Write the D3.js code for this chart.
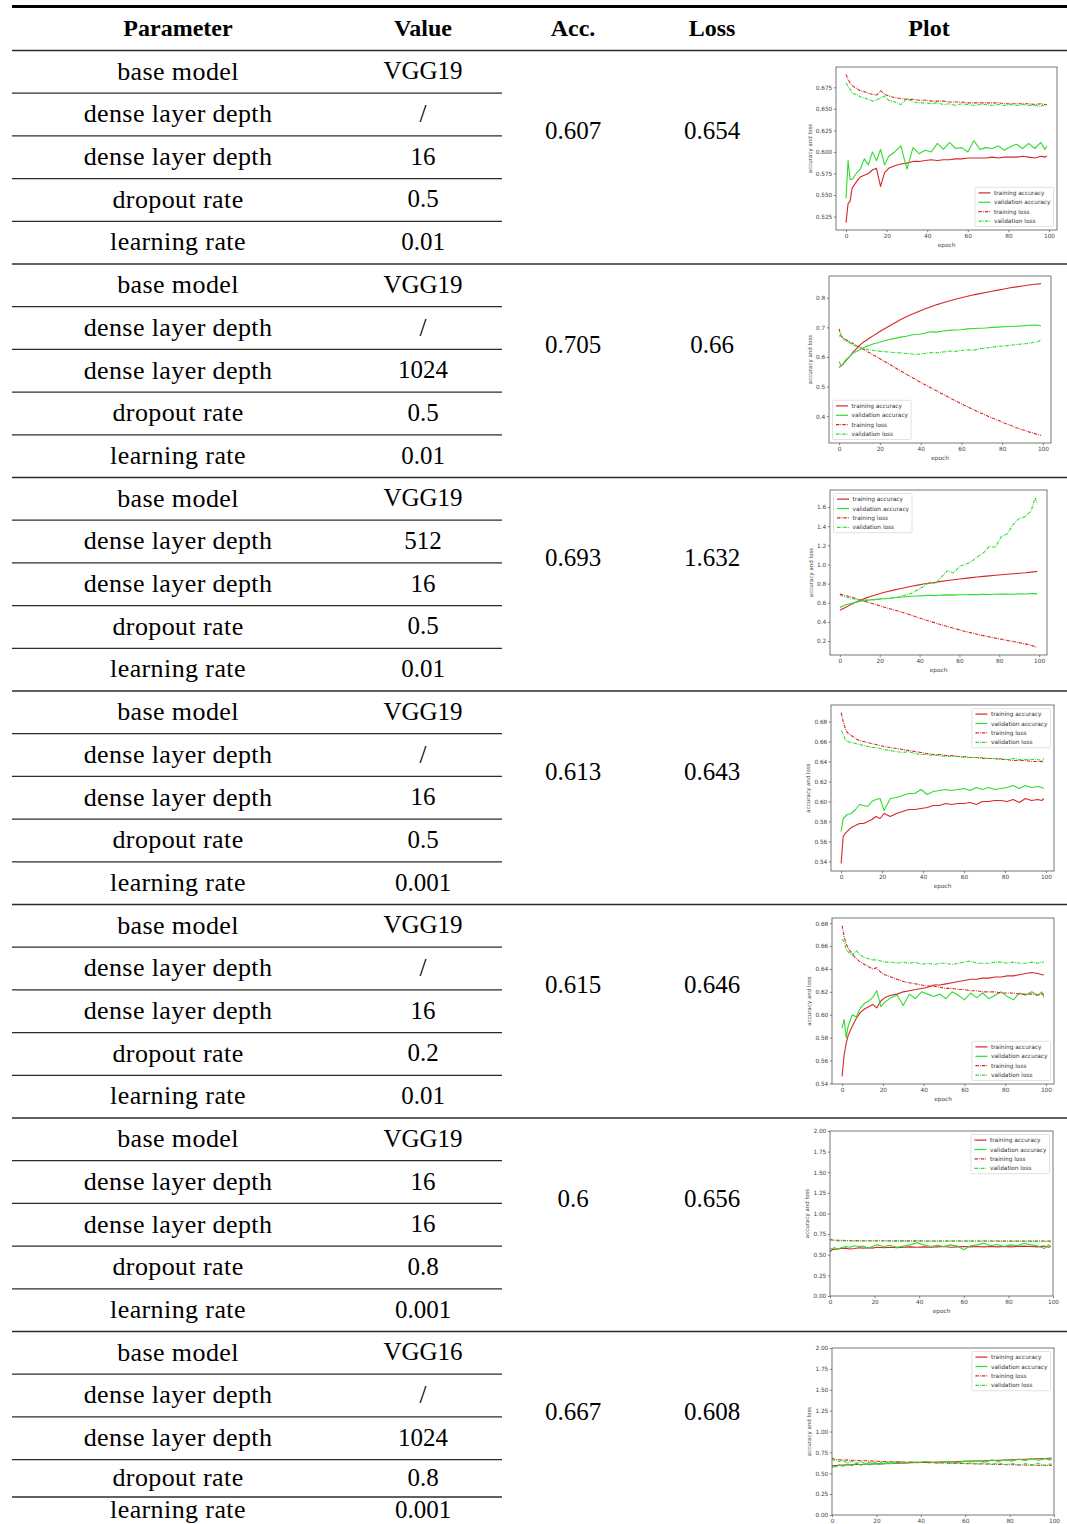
<!DOCTYPE html>
<html>
<head>
<meta charset="utf-8">
<script src="https://cdn.jsdelivr.net/npm/d3@7"></script>
<style>
  html, body { margin: 0; padding: 0; background: #fff; }
  svg { display: block; }
</style>
</head>
<body>
<svg id="table" width="1067" height="1524"></svg>
<script>
// ---------- table content ----------
const headers = ["Parameter", "Value", "Acc.", "Loss", "Plot"];
const paramNames = ["base model", "dense layer depth", "dense layer depth", "dropout rate", "learning rate"];
const paramValues = [
  ["VGG19", "/", "16", "0.5", "0.01"],
  ["VGG19", "/", "1024", "0.5", "0.01"],
  ["VGG19", "512", "16", "0.5", "0.01"],
  ["VGG19", "/", "16", "0.5", "0.001"],
  ["VGG19", "/", "16", "0.2", "0.01"],
  ["VGG19", "16", "16", "0.8", "0.001"],
  ["VGG16", "/", "1024", "0.8", "0.001"]
];
const accValues  = [0.607, 0.705, 0.693, 0.613, 0.615, 0.6, 0.667];
const lossValues = [0.654, 0.66, 1.632, 0.643, 0.646, 0.656, 0.608];

// ---------- training curves ----------
const seriesNames = ["training accuracy", "validation accuracy", "training loss", "validation loss"];
const EPOCHS = [0,1,2,3,5,7,9,11,13,15, 17,19,21,24,27,30,33,36,39,42,
                45,48,51,54,57,60,63,66,69,72, 75,78,81,84,87,90,93,96,98,99];
const xTicks = [0, 20, 40, 60, 80, 100];

// run 1
const run1TrainAcc = [.518,.540,.543,.558,.565,.571,.573,.575,.579,.581, .560,.576,.581,.584,.586,.587,.589,.589,.590,.591,
                      .590,.591,.591,.592,.592,.593,.593,.593,.593,.594, .593,.594,.594,.594,.595,.594,.593,.595,.594,.595];
const run1ValAcc   = [.546,.590,.568,.568,.575,.580,.592,.585,.600,.590, .603,.585,.595,.600,.607,.580,.605,.598,.602,.600,
                      .610,.603,.611,.604,.605,.600,.613,.603,.605,.604, .607,.602,.606,.609,.604,.610,.604,.611,.603,.607];
const run1TrainLoss= [.690,.684,.680,.677,.674,.671,.670,.668,.667,.666, .671,.667,.665,.663,.662,.661,.661,.660,.660,.659,
                      .659,.659,.658,.658,.658,.657,.657,.657,.657,.657, .657,.656,.656,.656,.656,.656,.655,.656,.655,.655];
const run1ValLoss  = [.680,.676,.673,.668,.667,.664,.663,.661,.659,.660, .663,.665,.660,.658,.655,.662,.658,.657,.657,.656,
                      .657,.655,.656,.654,.656,.655,.654,.655,.655,.654, .655,.654,.655,.654,.655,.654,.654,.653,.655,.654];
const run1YTicks = [0.525, 0.55, 0.575, 0.6, 0.625, 0.65, 0.675];

// run 2
const run2TrainAcc = [.565,.570,.577,.585,.600,.617,.632,.645,.655,.664, .673,.682,.690,.702,.714,.726,.736,.745,.754,.762,
                      .770,.777,.783,.789,.795,.800,.805,.810,.814,.818, .822,.826,.830,.834,.837,.840,.843,.846,.847,.848];
const run2ValAcc   = [.585,.570,.575,.588,.600,.614,.620,.628,.635,.640, .645,.648,.652,.658,.662,.667,.670,.675,.677,.680,
                      .685,.684,.688,.690,.691,.692,.695,.696,.697,.698, .700,.701,.702,.703,.704,.705,.707,.708,.707,.705];
const run2TrainLoss= [.695,.670,.664,.660,.652,.645,.637,.630,.622,.614, .606,.598,.590,.578,.566,.554,.542,.530,.518,.507,
                      .496,.485,.474,.463,.452,.442,.432,.422,.412,.403, .394,.386,.377,.369,.361,.354,.347,.341,.337,.335];
const run2ValLoss  = [.670,.675,.662,.655,.648,.640,.634,.630,.627,.624, .622,.620,.619,.617,.615,.614,.612,.610,.609,.612,
                      .615,.614,.617,.620,.619,.622,.624,.623,.628,.630, .633,.636,.637,.640,.642,.644,.646,.650,.653,.660];
const run2YTicks = [0.4, 0.5, 0.6, 0.7, 0.8];

// run 3
const run3TrainAcc = [.520,.531,.542,.553,.575,.596,.615,.632,.648,.662, .676,.689,.701,.717,.732,.746,.759,.772,.784,.795,
                      .805,.814,.823,.832,.840,.848,.855,.862,.869,.875, .881,.887,.893,.898,.903,.908,.913,.920,.925,.928];
const run3ValAcc   = [.550,.560,.570,.578,.590,.600,.610,.618,.622,.628, .632,.637,.641,.645,.652,.657,.662,.668,.671,.674,
                      .678,.674,.680,.682,.680,.684,.683,.686,.685,.688, .686,.689,.690,.692,.688,.694,.692,.697,.695,.693];
const run3TrainLoss= [.690,.685,.680,.674,.664,.652,.638,.625,.612,.600, .588,.575,.562,.543,.525,.508,.490,.468,.447,.427,
                      .407,.388,.369,.351,.333,.316,.300,.285,.270,.256, .243,.230,.218,.206,.195,.183,.170,.155,.140,.132];
const run3ValLoss  = [.680,.672,.665,.660,.650,.640,.632,.628,.628,.630, .632,.636,.640,.645,.652,.663,.680,.698,.735,.770,
                      .815,.800,.870,.935,.910,.980,1.000,1.030,1.080,1.120, 1.190,1.180,1.290,1.320,1.420,1.480,1.500,1.560,1.700,1.632];
const run3YTicks = [0.2, 0.4, 0.6, 0.8, 1.0, 1.2, 1.4, 1.6];

// run 4
const run4TrainAcc = [.538,.565,.568,.570,.574,.576,.578,.578,.580,.582, .585,.583,.588,.585,.588,.590,.592,.592,.593,.594,
                      .596,.596,.598,.597,.598,.598,.599,.597,.600,.600, .601,.601,.600,.602,.599,.603,.601,.602,.601,.603];
const run4ValAcc   = [.570,.583,.585,.587,.588,.592,.597,.596,.595,.600, .602,.603,.591,.603,.604,.606,.608,.608,.612,.607,
                      .610,.611,.612,.611,.612,.613,.611,.614,.612,.614, .612,.613,.614,.616,.613,.616,.614,.615,.614,.613];
const run4TrainLoss= [.689,.680,.673,.669,.666,.663,.661,.660,.659,.658, .657,.656,.655,.654,.653,.652,.651,.650,.649,.648,
                      .647,.647,.646,.646,.645,.645,.644,.644,.643,.643, .643,.642,.642,.641,.641,.641,.640,.640,.640,.639];
const run4ValLoss  = [.671,.667,.662,.660,.659,.658,.657,.656,.655,.654, .654,.653,.652,.651,.650,.649,.650,.648,.647,.647,
                      .646,.646,.645,.645,.645,.644,.644,.644,.644,.643, .643,.643,.642,.643,.642,.642,.642,.642,.641,.643];
const run4YTicks = [0.54, 0.56, 0.58, 0.60, 0.62, 0.64, 0.66, 0.68];

// run 5
const run5TrainAcc = [.546,.565,.575,.582,.590,.597,.602,.605,.607,.609, .606,.612,.615,.617,.618,.620,.621,.622,.623,.624,
                      .626,.626,.627,.628,.629,.630,.631,.631,.632,.632, .633,.633,.634,.634,.635,.636,.637,.636,.635,.635];
const run5ValAcc   = [.588,.596,.580,.590,.600,.598,.606,.610,.612,.615, .621,.607,.611,.615,.617,.608,.618,.614,.620,.618,
                      .616,.618,.614,.620,.617,.613,.619,.615,.619,.614, .617,.620,.616,.613,.619,.617,.620,.617,.620,.615];
const run5TrainLoss= [.678,.668,.662,.658,.653,.649,.646,.644,.642,.640, .641,.637,.635,.633,.631,.629,.628,.627,.626,.625,
                      .625,.624,.623,.623,.622,.622,.621,.621,.620,.620, .620,.619,.619,.619,.618,.618,.618,.617,.618,.618];
const run5ValLoss  = [.666,.664,.657,.655,.652,.656,.652,.650,.649,.648, .648,.647,.646,.646,.645,.646,.645,.646,.644,.645,
                      .644,.645,.645,.644,.645,.646,.647,.645,.645,.645, .646,.646,.645,.646,.645,.645,.646,.645,.646,.646];
const run5YTicks = [0.54, 0.56, 0.58, 0.60, 0.62, 0.64, 0.66, 0.68];

// run 6
const run6TrainAcc = [.540,.560,.565,.570,.575,.580,.570,.575,.585,.580, .585,.580,.590,.585,.590,.585,.590,.595,.590,.595,
                      .590,.595,.600,.590,.595,.600,.595,.600,.595,.600, .595,.600,.595,.600,.605,.600,.595,.605,.590,.600];
const run6ValAcc   = [.580,.570,.590,.560,.585,.600,.590,.610,.600,.605, .580,.600,.620,.600,.615,.590,.605,.620,.645,.620,
                      .600,.615,.600,.620,.605,.560,.610,.620,.640,.610, .625,.600,.620,.610,.640,.620,.610,.575,.620,.600];
const run6TrainLoss= [.690,.680,.678,.676,.674,.673,.672,.671,.671,.670, .670,.670,.669,.669,.669,.668,.668,.668,.668,.667,
                      .667,.667,.667,.667,.666,.666,.666,.666,.666,.666, .666,.665,.665,.665,.665,.665,.665,.665,.665,.665];
const run6ValLoss  = [.680,.675,.670,.668,.668,.667,.668,.667,.666,.667, .666,.667,.666,.667,.665,.666,.665,.667,.664,.666,
                      .665,.665,.664,.666,.665,.664,.665,.663,.665,.664, .664,.663,.664,.663,.662,.663,.662,.661,.660,.656];
const run6YTicks = [0, 0.25, 0.5, 0.75, 1.0, 1.25, 1.5, 1.75, 2.0];

// run 7
const run7TrainAcc = [.590,.592,.593,.595,.597,.600,.602,.604,.605,.607, .609,.610,.612,.614,.617,.620,.622,.625,.628,.630,
                      .632,.634,.636,.638,.640,.642,.645,.647,.650,.652, .655,.658,.661,.664,.667,.670,.673,.677,.680,.682];
const run7ValAcc   = [.570,.580,.575,.600,.585,.610,.590,.620,.595,.615, .600,.625,.605,.620,.615,.630,.620,.635,.625,.640,
                      .630,.625,.640,.635,.630,.645,.640,.650,.635,.660, .640,.665,.645,.670,.650,.680,.655,.675,.660,.667];
const run7TrainLoss= [.680,.670,.665,.662,.660,.657,.655,.653,.651,.649, .647,.645,.643,.640,.638,.636,.634,.632,.630,.628,
                      .626,.624,.622,.620,.618,.616,.614,.612,.610,.608, .606,.604,.602,.600,.598,.597,.595,.594,.593,.592];
const run7ValLoss  = [.670,.655,.660,.640,.650,.625,.645,.620,.640,.615, .635,.620,.640,.625,.630,.640,.625,.635,.630,.640,
                      .630,.625,.635,.620,.630,.615,.625,.610,.630,.605, .625,.600,.620,.595,.615,.600,.620,.590,.610,.608];
const run7YTicks = [0, 0.25, 0.5, 0.75, 1.0, 1.25, 1.5, 1.75, 2.0];

// ---------- per-run plot settings ----------
const runs = [
  { series: [run1TrainAcc, run1ValAcc, run1TrainLoss, run1ValLoss], yTicks: run1YTicks, fmt: ".3f", fixed: false, legend: "lower right",
    frame: { x0: 836, x1: 1057, y0: 67, y1: 230 } },
  { series: [run2TrainAcc, run2ValAcc, run2TrainLoss, run2ValLoss], yTicks: run2YTicks, fmt: ".1f", fixed: false, legend: "lower left",
    frame: { x0: 829, x1: 1051, y0: 276, y1: 443 } },
  { series: [run3TrainAcc, run3ValAcc, run3TrainLoss, run3ValLoss], yTicks: run3YTicks, fmt: ".1f", fixed: false, legend: "upper left",
    frame: { x0: 830, x1: 1047, y0: 490, y1: 655 } },
  { series: [run4TrainAcc, run4ValAcc, run4TrainLoss, run4ValLoss], yTicks: run4YTicks, fmt: ".2f", fixed: false, legend: "upper right",
    frame: { x0: 831, x1: 1054, y0: 705, y1: 871 } },
  { series: [run5TrainAcc, run5ValAcc, run5TrainLoss, run5ValLoss], yTicks: run5YTicks, fmt: ".2f", fixed: false, legend: "lower right",
    frame: { x0: 832, x1: 1054, y0: 918, y1: 1084 } },
  { series: [run6TrainAcc, run6ValAcc, run6TrainLoss, run6ValLoss], yTicks: run6YTicks, fmt: ".2f", fixed: true, legend: "upper right",
    frame: { x0: 830, x1: 1053, y0: 1131, y1: 1296 } },
  { series: [run7TrainAcc, run7ValAcc, run7TrainLoss, run7ValLoss], yTicks: run7YTicks, fmt: ".2f", fixed: true, legend: "upper right",
    frame: { x0: 832, x1: 1054, y0: 1348, y1: 1515 } }
];

// line style of each series: colour and dash pattern
const seriesColor = ["#d62728", "#2fdc2f", "#d62728", "#2fdc2f"];
const seriesDash  = [null, null, "3.4,1.1,0.8,1.1", "3.4,1.1,0.8,1.1"];

// ---------- layout ----------
const svg = d3.select("#table");
const SERIF = "'Liberation Serif', 'DejaVu Serif', serif";
const SANS = "'DejaVu Sans', sans-serif";
const colX = [178, 423, 573, 712, 929];
const tableLeft = 12, tableRight = 1067, innerRight = 502;
const headBottom = 50.5, groupH = 213.5, rowH = 42.7;
const pageBottom = 1524, lastRowTop = 1497;
const ruleColor = "#2b2b2b";

// header
svg.append("line").attr("x1", tableLeft).attr("x2", tableRight).attr("y1", 6.5).attr("y2", 6.5)
  .attr("stroke", "#000").attr("stroke-width", 2.8);
svg.selectAll("text.head").data(headers).join("text")
  .attr("class", "head")
  .attr("x", (d, i) => colX[i]).attr("y", 28.5).attr("dy", "0.3em")
  .attr("text-anchor", "middle")
  .style("font-family", SERIF).style("font-weight", "bold").style("font-size", "24px")
  .text(d => d);
svg.append("line").attr("x1", tableLeft).attr("x2", tableRight).attr("y1", headBottom).attr("y2", headBottom)
  .attr("stroke", ruleColor).attr("stroke-width", 1.3);

// groups of parameter rows
paramValues.forEach((vals, gi) => {
  const top = headBottom + gi * groupH;
  let bounds = d3.range(6).map(k => top + k * rowH);
  const last = gi === paramValues.length - 1;
  if (last) { bounds[4] = lastRowTop; bounds[5] = pageBottom; }
  const g = svg.append("g");

  paramNames.forEach((name, k) => {
    const cy = (bounds[k] + bounds[k + 1]) / 2;
    g.append("text").attr("x", colX[0]).attr("y", cy).attr("dy", "0.3em").attr("text-anchor", "middle")
      .style("font-family", SERIF).style("font-size", "26px").style("letter-spacing", "0.4px").text(name);
    g.append("text").attr("x", colX[1]).attr("y", cy).attr("dy", "0.3em").attr("text-anchor", "middle")
      .style("font-family", SERIF).style("font-size", "25px").text(vals[k]);
  });
  // inner rules between parameter rows
  bounds.slice(1, 5).forEach(y => {
    g.append("line").attr("x1", tableLeft).attr("x2", innerRight).attr("y1", y).attr("y2", y)
      .attr("stroke", ruleColor).attr("stroke-width", 1.3);
  });
  if (!last) {
    g.append("line").attr("x1", tableLeft).attr("x2", tableRight).attr("y1", bounds[5]).attr("y2", bounds[5])
      .attr("stroke", ruleColor).attr("stroke-width", 1.3);
  }
  // metric columns
  g.append("text").attr("x", colX[2]).attr("y", top + 81).attr("dy", "0.3em").attr("text-anchor", "middle")
    .style("font-family", SERIF).style("font-size", "25px").text(accValues[gi]);
  g.append("text").attr("x", colX[3]).attr("y", top + 81).attr("dy", "0.3em").attr("text-anchor", "middle")
    .style("font-family", SERIF).style("font-size", "25px").text(lossValues[gi]);

  drawPlot(svg.append("g"), runs[gi]);
});

// ---------- one training-history plot ----------
function drawPlot(g, run) {
  const f = run.frame;
  const x = d3.scaleLinear().range([f.x0, f.x1]);
  const y = d3.scaleLinear().range([f.y1, f.y0]);
  if (run.fixed) {
    x.domain([0, 100]);
    y.domain([0, 2]);
  } else {
    const xe = d3.extent(EPOCHS), xm = (xe[1] - xe[0]) * 0.05;
    x.domain([xe[0] - xm, xe[1] + xm]);
    const ye = d3.extent(run.series.flat()), ym = (ye[1] - ye[0]) * 0.05;
    y.domain([ye[0] - ym, ye[1] + ym]);
  }

  // curves
  const line = d3.line().x((d, i) => x(EPOCHS[i])).y(d => y(d));
  run.series.forEach((vals, si) => {
    g.append("path").datum(vals)
      .attr("d", line)
      .attr("fill", "none")
      .attr("stroke", seriesColor[si])
      .attr("stroke-width", 1.1)
      .attr("stroke-linejoin", "round")
      .attr("stroke-dasharray", seriesDash[si]);
  });

  // axes
  const xAxis = g.append("g").attr("transform", `translate(0,${f.y1})`)
    .call(d3.axisBottom(x).tickValues(xTicks).tickSize(2.2).tickPadding(1.5).tickFormat(d3.format("d")));
  const yAxis = g.append("g").attr("transform", `translate(${f.x0},0)`)
    .call(d3.axisLeft(y).tickValues(run.yTicks).tickSize(2.2).tickPadding(1.5).tickFormat(d3.format(run.fmt)));
  [xAxis, yAxis].forEach(a => {
    a.select(".domain").remove();
    a.selectAll(".tick line").attr("stroke", "#555").attr("stroke-width", 0.7);
    a.selectAll(".tick text").attr("fill", "#444").style("font-family", SANS).style("font-size", "5.8px");
  });

  // axes frame
  g.append("rect").attr("x", f.x0).attr("y", f.y0).attr("width", f.x1 - f.x0).attr("height", f.y1 - f.y0)
    .attr("fill", "none").attr("stroke", "#555").attr("stroke-width", 0.8);

  // axis titles (the x title is left out when it would fall below the page)
  const yb = yAxis.node().getBBox();
  g.append("text").attr("transform", `translate(${f.x0 + yb.x - 4},${(f.y0 + f.y1) / 2}) rotate(-90)`)
    .attr("text-anchor", "middle")
    .attr("fill", "#444").style("font-family", SANS).style("font-size", "5.5px")
    .text("accuracy and loss");
  if (f.y1 + 19 < pageBottom) {
    g.append("text").attr("x", (f.x0 + f.x1) / 2).attr("y", f.y1 + 17)
      .attr("text-anchor", "middle")
      .attr("fill", "#444").style("font-family", SANS).style("font-size", "5.8px")
      .text("epoch");
  }

  // legend
  const lg = g.append("g");
  const box = lg.append("rect").attr("fill", "#fff").attr("fill-opacity", 0.85)
    .attr("stroke", "#cfcfcf").attr("stroke-width", 0.6).attr("rx", 1.2);
  const step = 9.4, handle = 12, padL = 3.5, gap = 3.5;
  let maxW = 0;
  seriesNames.forEach((name, i) => {
    const cy = 5.6 + i * step;
    lg.append("line").attr("x1", padL).attr("x2", padL + handle).attr("y1", cy).attr("y2", cy)
      .attr("stroke", seriesColor[i]).attr("stroke-width", 1.2).attr("stroke-dasharray", seriesDash[i]);
    const t = lg.append("text").attr("x", padL + handle + gap).attr("y", cy).attr("dy", "0.35em")
      .attr("fill", "#333").style("font-family", SANS).style("font-size", "5.8px").text(name);
    maxW = Math.max(maxW, t.node().getComputedTextLength());
  });
  const bw = padL + handle + gap + maxW + 3, bh = 4 * step + 1.6;
  box.attr("width", bw).attr("height", bh);
  const inset = 3.5;
  const lx = run.legend.includes("right") ? f.x1 - inset - bw : f.x0 + inset;
  const ly = run.legend.includes("lower") ? f.y1 - inset - bh : f.y0 + inset;
  lg.attr("transform", `translate(${lx},${ly})`);
}
</script>
</body>
</html>
